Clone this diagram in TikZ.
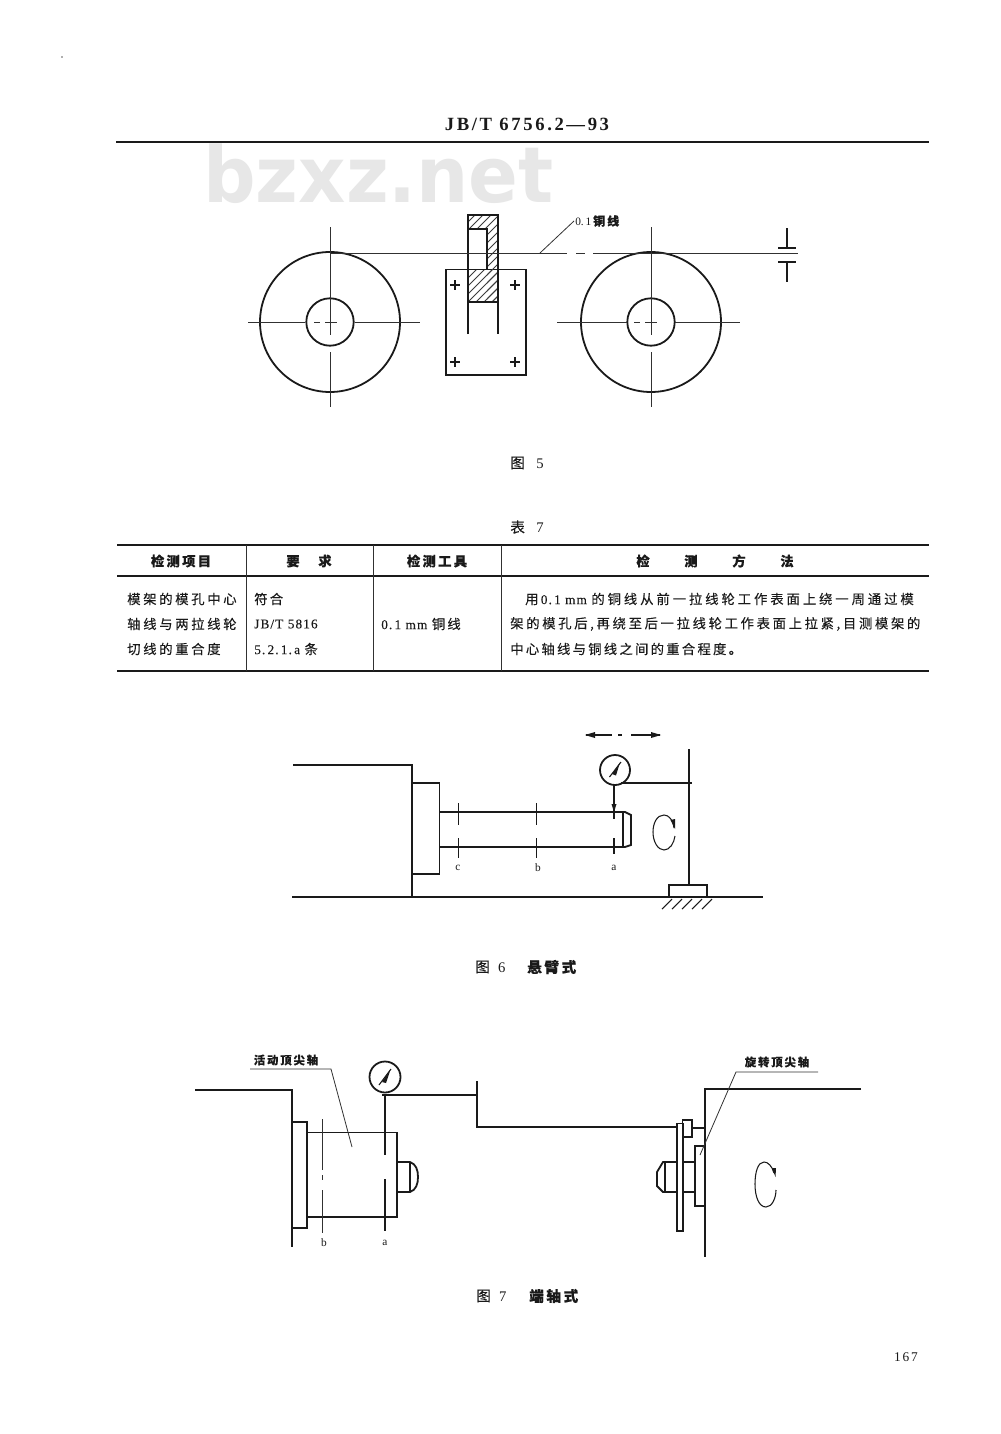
\documentclass[tikz,border=0pt]{standalone}
\usepackage{fontspec}
\setmainfont{Liberation Serif}
\newfontfamily\cjk[LetterSpace=17,FakeBold=.2]{Noto Sans CJK SC}
\newfontfamily\cjkw[LetterSpace=20,FakeBold=.2]{Noto Sans CJK SC}
\newfontfamily\cjkx[LetterSpace=22,FakeBold=.2]{Noto Sans CJK SC}
\newfontfamily\lat[LetterSpace=8,FakeBold=.1]{Liberation Serif}
\newfontfamily\hdr[LetterSpace=14]{Liberation Serif}
\newfontfamily\wm{DejaVu Sans}
\definecolor{ink}{HTML}{1A1A1A}
\definecolor{wmark}{HTML}{E7E7E7}
\tikzset{
  heavy/.style={draw=ink,line width=1.35pt},
  thin line/.style={draw=ink,line width=.8pt},
  centre/.style={draw=ink!90,line width=.6pt},
  hair/.style={draw=ink!85,line width=.55pt},
  txt/.style={inner sep=0pt,text=ink,font=\fontsize{10}{12}\selectfont},
  ltxt/.style={txt,anchor=west},
  captxt/.style={inner sep=0pt,text=ink,anchor=west,font=\fontsize{11}{13}\selectfont},
  small/.style={inner sep=0pt,text=ink,font=\fontsize{8.5}{10}\selectfont},
}
\begin{document}
\begin{tikzpicture}[x=.75pt,y=-.75pt]
\useasboundingbox (0,0) rectangle (1000,1434);
\fill[white] (0,0) rectangle (1000,1434);
% watermark
\node[inner sep=0pt,text=wmark,font=\wm\bfseries\fontsize{58}{58}\selectfont,xscale=.95,anchor=base west] (wm) at (203,202) {bzxz.net};
\fill[ink!70] (62,57) circle (.8);
% header
\node[inner sep=0pt,text=ink,font=\hdr\bfseries\fontsize{14}{16}\selectfont] (head) at (527,124) {JB/T 6756.2—93};
\draw[heavy] (116,142) -- (929,142);

% ---- Figure 5
\foreach \cx in {330,651}{
  \draw[heavy] (\cx,322) circle (70);
  \draw[heavy] (\cx,322) circle (23.7);
  \draw[centre] (\cx,227) -- (\cx,335);
  \draw[centre] (\cx,352) -- (\cx,407);
}
\draw[centre] (248,322) -- (305,322) (314,322) -- (320,322) (325,322) -- (337,322) (355,322) -- (420,322);
\draw[centre] (557,322) -- (627,322) (634,322) -- (640,322) (645,322) -- (657,322) (675,322) -- (740,322);
% hatched piece
\begin{scope}
\clip (468,215) -- (498,215) -- (498,302) -- (468,302) -- (468,269.5) -- (487,269.5) -- (487,229) -- (468,229) -- cycle;
\foreach \k in {0,8,...,136}{
  \draw[hair] (460,222+\k) -- (510,172+\k);
}
\end{scope}
\draw[heavy] (446,269.5) rectangle (526,375);
\fill[white] (469,270) rectangle (486.5,301);
\begin{scope}
\clip (468,269.5) rectangle (498,302);
\foreach \k in {48,56,...,136}{
  \draw[hair] (460,222+\k) -- (510,172+\k);
}
\end{scope}
\draw[heavy] (468,334) -- (468,215) -- (498,215) -- (498,334);
\draw[heavy] (468,302) -- (498,302);
\draw[heavy] (468,229) -- (487,229) -- (487,269.5) -- (468,269.5);
\foreach \px in {455,515}{
  \foreach \py in {285,362}{
    \draw[heavy] (\px-5,\py) -- (\px+5,\py) (\px,\py-5) -- (\px,\py+5);
  }
}
% wire
\draw[centre] (330,253) -- (567,253) (576,253) -- (585,253) (593,253) -- (798,253);
\draw[centre] (540,253) -- (574,221);
\node[small,anchor=west] (wirelabel) at (575,221) {0.\,1\,{\cjk\bfseries\fontsize{9}{10}\selectfont 铜线}};
% tolerance symbol
\draw[heavy] (787,228) -- (787,248) (778,248) -- (796,248);
\draw[heavy] (778,262) -- (796,262) (787,262) -- (787,282);
\node[captxt] (cap5) at (510,463) {\cjk 图\ \ \textrm{5}};

% ---- Table
\node[captxt] (cap7) at (510,527) {\cjk 表\ \ \textrm{7}};
\draw[heavy] (117,545) -- (929,545);
\draw[thin line] (117,576) -- (929,576);
\draw[heavy] (117,671) -- (929,671);
\foreach \vx in {246,373.5,501}{ \draw[centre] (\vx,545) -- (\vx,671); }
\node[txt] (h1) at (181,561) {\cjk\bfseries 检测项目};
\node[txt] (h2) at (309,561) {\cjk\bfseries 要\quad\ 求};
\node[txt] (h3) at (437,561) {\cjk\bfseries 检测工具};
\node[txt] (h4) at (715,561) {\cjk\bfseries 检\hspace{26pt}测\hspace{26pt}方\hspace{26pt}法};
\node[ltxt] (c11) at (127,599) {\cjkw 模架的模孔中心};
\node[ltxt] (c12) at (127,624) {\cjkw 轴线与两拉线轮};
\node[ltxt] (c13) at (127,649) {\cjkw 切线的重合度};
\node[ltxt] (c21) at (254,599) {\cjk 符合};
\node[ltxt] (c22) at (254,624) {\lat JB/T 5816};
\node[ltxt] (c23) at (254,649) {\lat 5.\,2.\,1.\,a\ {\cjk 条}};
\node[ltxt] (c31) at (381,624) {\lat 0.\,1 mm\ {\cjk 铜线}};
\node[ltxt] (c41) at (525,599) {\cjkx 用\,\lat 0.\,1 mm\ \cjkx 的铜线从前一拉线轮工作表面上绕一周通过模};
\node[ltxt] (c42) at (510,624) {\cjkw 架的模孔后,再绕至后一拉线轮工作表面上拉紧,目测模架的};
\node[ltxt] (c43) at (510,649) {\cjk 中心轴线与铜线之间的重合程度。};

% ---- Figure 6
\draw[heavy] (293,765) -- (412,765) -- (412,897);
\draw[heavy] (292,897) -- (763,897);
\draw[heavy] (412,783) -- (439.5,783) -- (439.5,874) -- (412,874);
\draw[heavy] (440,812) -- (625,812) -- (631,815) -- (631,845) -- (625,847) -- (440,847);
\draw[thin line] (623,812) -- (623,847);
\foreach \tx in {458.5,536.5}{
  \draw[heavy] (\tx,803) -- (\tx,825) (\tx,838) -- (\tx,858);
}
\draw[heavy] (614,838) -- (614,854);
\draw[heavy] (614,785) -- (614,819);
\fill[ink] (614,812) -- (611.5,804) -- (616.5,804) -- cycle;
\draw[heavy] (615,770) circle (15);
\draw[thin line] (609.5,777) -- (621,762);
\fill[ink] (612,774) -- (620,762.5) -- (616,775.5) -- cycle;
\draw[heavy] (621,783) -- (692,783);
\draw[heavy] (689,749) -- (689,885);
\draw[heavy] (669,885) rectangle (707,897);
\foreach \hx in {669,679,689,699,709}{
  \draw[thin line] (\hx+3,899) -- (\hx-7,909);
}
\draw[thin line] (674,828) .. controls (673,820) and (669,815) .. (664,815) .. controls (657,815) and (653,823) .. (653,832) .. controls (653,842) and (658,850) .. (664,850) .. controls (670,850) and (674,843) .. (675,836);
\fill[ink] (675,829) -- (670.5,820) -- (675,819) -- cycle;
\draw[thin line] (586,735) -- (612,735) (618,735) -- (622,735) (631,735) -- (660,735);
\fill[ink] (585,735) -- (595,732) -- (595,738) -- cycle;
\fill[ink] (661,735) -- (651,732) -- (651,738) -- cycle;
\node[small] (lc) at (458,868) {c};
\node[small] (lb) at (538,868) {b};
\node[small] (la) at (614,868) {a};
\node[captxt] (cap6) at (475,967) {\cjk 图\ \textrm{6}};
\node[captxt] (cap6b) at (527,967) {\cjk\bfseries 悬臂式};

% ---- Figure 7, left
\draw[heavy] (195,1090) -- (292,1090) -- (292,1247);
\draw[heavy] (292,1122) -- (307,1122) -- (307,1228) -- (292,1228);
\draw[heavy] (307,1132.5) -- (397,1132.5) -- (397,1217) -- (307,1217);
\draw[heavy] (397,1162) -- (410,1162) .. controls (416,1164) and (418,1170) .. (418,1177) .. controls (418,1184) and (416,1190) .. (410,1192) -- (397,1192);
\draw[thin line] (410,1162) -- (410,1192);
\draw[centre] (322.5,1119) -- (322.5,1170) (322.5,1175) -- (322.5,1180) (322.5,1190) -- (322.5,1233);
\draw[heavy] (385,1095) -- (385,1155) (385,1179) -- (385,1231);
\draw[heavy] (385,1077) circle (15.5);
\draw[thin line] (379,1085) -- (391,1069);
\fill[ink] (382,1082) -- (390.5,1069.5) -- (386,1083) -- cycle;
\draw[thin line] (382,1095) -- (477,1095);
\draw[thin line] (477,1081) -- (477,1127) -- (677,1127);
\draw[centre] (250,1069) -- (331,1069) -- (352,1147);
\node[small] (lb2) at (324,1243) {b};
\node[small] (la2) at (385,1243) {a};
\node[small] (live) at (286,1060) {\cjk\bfseries\fontsize{8.5}{10}\selectfont 活动顶尖轴};

% ---- Figure 7, right
\draw[heavy] (861,1089) -- (705,1089) -- (705,1257);
\draw[heavy] (677,1123.5) rectangle (683,1231);
\draw[heavy] (682.5,1120) rectangle (692,1137);
\draw[heavy] (692,1128) -- (705,1128);
\draw[heavy] (705,1146) -- (695,1146) -- (695,1206) -- (705,1206);
\draw[heavy] (683,1162) -- (695,1162) (683,1192) -- (695,1192);
\draw[heavy] (677,1162) -- (663,1162) -- (657,1172) -- (657,1186) -- (663,1192) -- (677,1192);
\draw[thin line] (665,1162) -- (665,1192);
\draw[centre] (818,1072) -- (736,1072) -- (700,1155);
\node[small] (rot) at (777,1062) {\cjk\bfseries\fontsize{8.5}{10}\selectfont 旋转顶尖轴};
\draw[thin line] (774,1173) .. controls (772,1166) and (768,1162) .. (764,1162) .. controls (758,1162) and (755,1172) .. (755,1184) .. controls (755,1197) and (759,1207) .. (766,1207) .. controls (772,1207) and (776,1198) .. (776,1190);
\fill[ink] (775.5,1177) -- (772,1168) -- (776,1168) -- cycle;
\node[captxt] (cap7b) at (476,1296) {\cjk 图\ \textrm{7}};
\node[captxt] (cap7c) at (529,1296) {\cjk\bfseries 端轴式};
\node[inner sep=0pt,text=ink,font=\hdr\fontsize{10}{12}\selectfont] (page) at (906,1357) {167};
\end{tikzpicture}
\end{document}
